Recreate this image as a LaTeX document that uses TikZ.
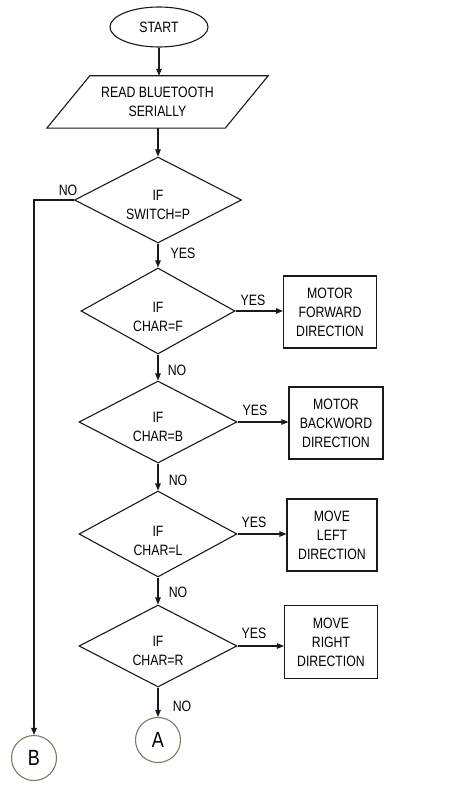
\documentclass[tikz,border=0pt]{standalone}
\usepackage{fontspec}
\setmainfont{Liberation Sans}[FakeStretch=0.82]
\usetikzlibrary{shapes.geometric,arrows.meta}
\tikzset{
  every picture/.style={x=1pt,y=-1pt},
  base/.style={line width=1.1pt, draw=black!90},
  txt/.style={font=\fontsize{15}{19}\selectfont, align=center, inner sep=0pt},
  dec/.style={base, diamond, aspect=2, inner sep=0pt},
  procbox/.style={base, txt, rectangle},
  term/.style={base, ellipse, txt, minimum width=98pt, minimum height=40pt},
  conn/.style={circle, draw=black!45!olive!40!gray, line width=1.1pt, minimum size=45pt, inner sep=0pt, font=\fontsize{22}{22}\selectfont},
  arr/.style={base, -{Triangle[length=7pt,width=5.5pt]}},
  lab/.style={txt}
}
\begin{document}
\begin{tikzpicture}
\useasboundingbox (0,0) rectangle (450,802);
% terminal
\node[term] (start) at (159,27) {START};
% input parallelogram
\node[txt, minimum width=221pt, minimum height=52pt] (read) at (157.5,102) {READ BLUETOOTH\\SERIALLY};
\draw[base] ([xshift=43pt]read.north west) -- (read.north east) -- ([xshift=-43pt]read.south east) -- (read.south west) -- cycle;
% decisions
\node[dec, minimum width=167pt, minimum height=86pt] (d1) at (158,200) {};
\node[dec, minimum width=154pt, minimum height=86pt] (d2) at (158,311) {};
\node[dec, minimum width=158pt, minimum height=82pt] (d3) at (158,422) {};
\node[dec, minimum width=158pt, minimum height=86pt] (d4) at (158,534) {};
\node[dec, minimum width=158pt, minimum height=82pt] (d5) at (158,646) {};
\node[txt] (t1) at (158,205) {IF\\SWITCH=P};
\node[txt] (t2) at (158,317) {IF\\CHAR=F};
\node[txt] (t3) at (158,427) {IF\\CHAR=B};
\node[txt] (t4) at (158,541) {IF\\CHAR=L};
\node[txt] (t5) at (158,651) {IF\\CHAR=R};
% process boxes
\node[procbox, minimum width=93pt, minimum height=72pt] (b1) at (330,312) {MOTOR\\FORWARD\\DIRECTION};
\node[procbox, minimum width=94pt, minimum height=72pt] (b2) at (336,423) {MOTOR\\BACKWORD\\DIRECTION};
\node[procbox, minimum width=90pt, minimum height=72pt] (b3) at (332,535) {MOVE\\LEFT\\DIRECTION};
\node[procbox, minimum width=93pt, minimum height=73pt] (b4) at (331,642) {MOVE\\RIGHT\\DIRECTION};
% connectors
\node[conn] (A) at (158,740) {A};
\node[conn] (B) at (34,758) {B};
% arrows
\draw[arr] (start) -- (read.north -| start);
\draw[arr] (read.south -| d1.north) -- (d1.north);
\draw[arr] (d1) -- (d2);
\draw[arr] (d2) -- (d3);
\draw[arr] (d3) -- (d4);
\draw[arr] (d4) -- (d5);
\draw[arr] (d5) -- (A);
\draw[arr] (d1.west) -| (B.north);
\draw[arr] (d2.east) -- (b1.west |- d2.east);
\draw[arr] (d3.east) -- (b2.west |- d3.east);
\draw[arr] (d4.east) -- (b3.west |- d4.east);
\draw[arr] (d5.east) -- (b4.west |- d5.east);
% labels
\node[lab] (l1) at (68,190) {NO};
\node[lab] (l2) at (183,253) {YES};
\node[lab] (l3) at (253,300) {YES};
\node[lab] (l4) at (177,370) {NO};
\node[lab] (l5) at (255,410) {YES};
\node[lab] (l6) at (178,480) {NO};
\node[lab] (l7) at (254,522) {YES};
\node[lab] (l8) at (178,592) {NO};
\node[lab] (l9) at (254,633) {YES};
\node[lab] (l10) at (182,706) {NO};
\end{tikzpicture}
\end{document}
